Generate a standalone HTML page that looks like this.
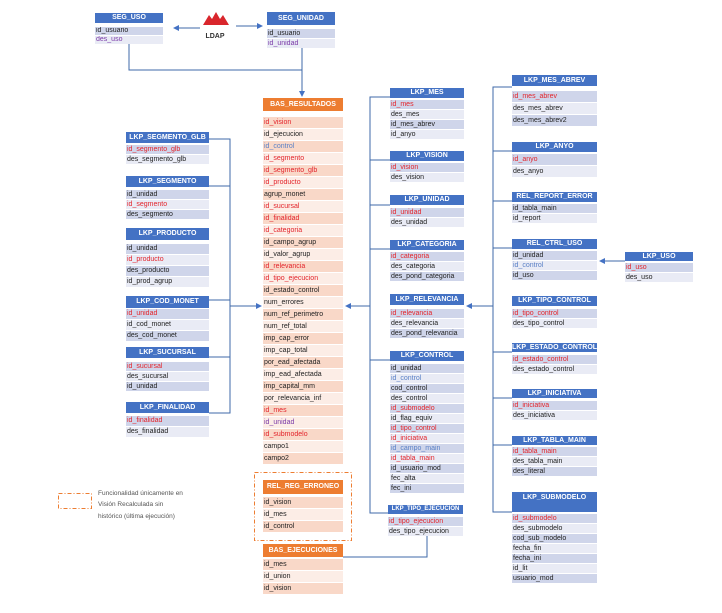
<!DOCTYPE html>
<html><head><meta charset="utf-8"><style>
body{margin:0;width:722px;height:613px;background:#fff;position:relative;overflow:hidden;font-family:"Liberation Sans",sans-serif;}
.t{position:absolute;font-size:7px;color:#222;}
.h{background:#4472C4;color:#fff;font-weight:bold;text-align:center;font-size:7px;}
.o .h{background:#ED7D31;}
.r{padding-left:1px;white-space:nowrap;overflow:hidden;}
.r:nth-child(odd){background:#CFD5EA}.r:nth-child(even){background:#E9EBF5}
.o .r:nth-child(odd){background:#F9D8C8}.o .r:nth-child(even){background:#FCEDE6}
.k{color:#E3242B}.b{color:#5A80C6}.p{color:#7B3BA8}
svg{position:absolute;left:0;top:0}
</style></head><body>
<svg width="722" height="613">
<defs><marker id="a" markerWidth="6" markerHeight="6" refX="5" refY="3" orient="auto"><path d="M0,0 L6,3 L0,6 z" fill="#4472C4"/></marker></defs>
<g stroke="#3F6AA8" stroke-width="1" fill="none">
<line x1="200" y1="28" x2="174" y2="28" marker-end="url(#a)"/>
<line x1="236" y1="26" x2="262" y2="26" marker-end="url(#a)"/>
<polyline points="129,44 129,70 302,70"/>
<line x1="302" y1="47" x2="302" y2="96" marker-end="url(#a)"/>
<polyline points="209,139 230,139 230,413 209,413"/>
<line x1="209" y1="186" x2="230" y2="186"/>
<line x1="209" y1="357" x2="230" y2="357"/>
<polyline points="209,300 230,300"/>
<line x1="230" y1="306" x2="261" y2="306" marker-end="url(#a)"/>
<polyline points="390,97 370,97 370,513 388,513"/>
<line x1="370" y1="160" x2="390" y2="160"/>
<line x1="370" y1="205" x2="390" y2="205"/>
<line x1="370" y1="249" x2="390" y2="249"/>
<line x1="370" y1="360" x2="390" y2="360"/>
<line x1="370" y1="306" x2="346" y2="306" marker-end="url(#a)"/>
<polyline points="343,557 427,557 427,535"/>
<polyline points="512,87 493,87 493,512 512,512"/>
<line x1="493" y1="151" x2="512" y2="151"/>
<line x1="493" y1="201" x2="512" y2="201"/>
<line x1="493" y1="248" x2="512" y2="248"/>
<line x1="493" y1="352" x2="512" y2="352"/>
<line x1="493" y1="398" x2="512" y2="398"/>
<line x1="493" y1="445" x2="512" y2="445"/>
<line x1="493" y1="306" x2="467" y2="306" marker-end="url(#a)"/>
<line x1="625" y1="261" x2="600" y2="261" marker-end="url(#a)"/>
</g>
<g stroke="#ED7D31" stroke-width="1" fill="none" stroke-dasharray="4,2,1,2">
<rect x="254.5" y="472.5" width="97" height="68"/>
<rect x="58.5" y="493.5" width="33" height="15"/>
</g>
<polygon points="203,25 209,15 212,19 216,12 220,19 223,15 229,25" fill="#D9262C"/>
<text x="215" y="38" font-family="Liberation Sans" font-size="7" font-weight="bold" text-anchor="middle" fill="#333">LDAP</text>
<text font-family="Liberation Sans" font-size="6.5" fill="#555"><tspan x="98" y="495">Funcionalidad únicamente en</tspan><tspan x="98" y="506">Visión Recalculada sin</tspan><tspan x="98" y="518">histórico (última ejecución)</tspan></text>
</svg>

<div class="t" style="left:95px;top:13px;width:68px"><div class="h" style="height:10px;line-height:10px">SEG_USO</div><div style="height:4px"></div><div><div class="r" style="height:8px;line-height:8px;margin-bottom:1px">id_usuario</div><div class="r p" style="height:8px;line-height:8px">des_uso</div></div></div>
<div class="t" style="left:267px;top:12px;width:68px"><div class="h" style="height:13px;line-height:13px">SEG_UNIDAD</div><div style="height:4px"></div><div><div class="r" style="height:9px;line-height:9px;margin-bottom:1px">id_usuario</div><div class="r p" style="height:9px;line-height:9px">id_unidad</div></div></div>

<div class="t o" style="left:263px;top:98px;width:80px"><div class="h" style="height:13px;line-height:13px">BAS_RESULTADOS</div><div style="height:6px"></div><div style="line-height:11px">
<div class="r k" style="height:11px;margin-bottom:1px">id_vision</div>
<div class="r" style="height:11px;margin-bottom:1px">id_ejecucion</div>
<div class="r b" style="height:11px;margin-bottom:1px">id_control</div>
<div class="r k" style="height:11px;margin-bottom:1px">id_segmento</div>
<div class="r k" style="height:11px;margin-bottom:1px">id_segmento_glb</div>
<div class="r k" style="height:11px;margin-bottom:1px">id_producto</div>
<div class="r" style="height:11px;margin-bottom:1px">agrup_monet</div>
<div class="r k" style="height:11px;margin-bottom:1px">id_sucursal</div>
<div class="r k" style="height:11px;margin-bottom:1px">id_finalidad</div>
<div class="r k" style="height:11px;margin-bottom:1px">id_categoria</div>
<div class="r" style="height:11px;margin-bottom:1px">id_campo_agrup</div>
<div class="r" style="height:11px;margin-bottom:1px">id_valor_agrup</div>
<div class="r k" style="height:11px;margin-bottom:1px">id_relevancia</div>
<div class="r k" style="height:11px;margin-bottom:1px">id_tipo_ejecucion</div>
<div class="r" style="height:11px;margin-bottom:1px">id_estado_control</div>
<div class="r" style="height:11px;margin-bottom:1px">num_errores</div>
<div class="r" style="height:11px;margin-bottom:1px">num_ref_perimetro</div>
<div class="r" style="height:11px;margin-bottom:1px">num_ref_total</div>
<div class="r" style="height:11px;margin-bottom:1px">imp_cap_error</div>
<div class="r" style="height:11px;margin-bottom:1px">imp_cap_total</div>
<div class="r" style="height:11px;margin-bottom:1px">por_ead_afectada</div>
<div class="r" style="height:11px;margin-bottom:1px">imp_ead_afectada</div>
<div class="r" style="height:11px;margin-bottom:1px">imp_capital_mm</div>
<div class="r" style="height:11px;margin-bottom:1px">por_relevancia_inf</div>
<div class="r k" style="height:11px;margin-bottom:1px">id_mes</div>
<div class="r p" style="height:11px;margin-bottom:1px">id_unidad</div>
<div class="r k" style="height:11px;margin-bottom:1px">id_submodelo</div>
<div class="r" style="height:11px;margin-bottom:1px">campo1</div>
<div class="r" style="height:11px;margin-bottom:1px">campo2</div>
</div></div>

<div class="t o" style="left:263px;top:480px;width:80px"><div class="h" style="height:14px;line-height:14px">REL_REG_ERRONEO</div><div style="height:3px"></div><div style="line-height:11px">
<div class="r" style="height:11px;margin-bottom:1px">id_vision</div><div class="r" style="height:11px;margin-bottom:1px">id_mes</div><div class="r" style="height:11px;margin-bottom:1px">id_control</div></div></div>
<div class="t o" style="left:263px;top:544px;width:80px"><div class="h" style="height:13px;line-height:13px">BAS_EJECUCIONES</div><div style="height:2px"></div><div style="line-height:11px">
<div class="r" style="height:11px;margin-bottom:1px">id_mes</div><div class="r" style="height:11px;margin-bottom:1px">id_union</div><div class="r" style="height:11px;margin-bottom:1px">id_vision</div></div></div>

<!-- left column -->
<div class="t" style="left:126px;top:132px;width:83px"><div class="h" style="height:11px;line-height:11px">LKP_SEGMENTO_GLB</div><div style="height:2px"></div><div style="line-height:9px">
<div class="r k" style="height:9px;margin-bottom:1px">id_segmento_glb</div><div class="r" style="height:9px;margin-bottom:1px">des_segmento_glb</div></div></div>
<div class="t" style="left:126px;top:176px;width:83px"><div class="h" style="height:11px;line-height:11px">LKP_SEGMENTO</div><div style="height:3px"></div><div style="line-height:9px">
<div class="r" style="height:9px;margin-bottom:1px">id_unidad</div><div class="r k" style="height:9px;margin-bottom:1px">id_segmento</div><div class="r" style="height:9px;margin-bottom:1px">des_segmento</div></div></div>
<div class="t" style="left:126px;top:228px;width:83px"><div class="h" style="height:12px;line-height:12px">LKP_PRODUCTO</div><div style="height:4px"></div><div style="line-height:10px">
<div class="r" style="height:10px;margin-bottom:1px">id_unidad</div><div class="r k" style="height:10px;margin-bottom:1px">id_producto</div><div class="r" style="height:10px;margin-bottom:1px">des_producto</div><div class="r" style="height:10px;margin-bottom:1px">id_prod_agrup</div></div></div>
<div class="t" style="left:126px;top:296px;width:83px"><div class="h" style="height:12px;line-height:12px">LKP_COD_MONET</div><div style="height:1px"></div><div style="line-height:10px">
<div class="r k" style="height:10px;margin-bottom:1px">id_unidad</div><div class="r" style="height:10px;margin-bottom:1px">id_cod_monet</div><div class="r" style="height:10px;margin-bottom:1px">des_cod_monet</div></div></div>
<div class="t" style="left:126px;top:347px;width:83px"><div class="h" style="height:11px;line-height:11px">LKP_SUCURSAL</div><div style="height:4px"></div><div style="line-height:9px">
<div class="r k" style="height:9px;margin-bottom:1px">id_sucursal</div><div class="r" style="height:9px;margin-bottom:1px">des_sucursal</div><div class="r" style="height:9px;margin-bottom:1px">id_unidad</div></div></div>
<div class="t" style="left:126px;top:402px;width:83px"><div class="h" style="height:11px;line-height:11px">LKP_FINALIDAD</div><div style="height:3px"></div><div style="line-height:10px">
<div class="r k" style="height:10px;margin-bottom:1px">id_finalidad</div><div class="r" style="height:10px;margin-bottom:1px">des_finalidad</div></div></div>

<!-- middle column -->
<div class="t" style="left:390px;top:88px;width:74px"><div class="h" style="height:10px;line-height:10px">LKP_MES</div><div style="height:2px"></div><div style="line-height:9px">
<div class="r k" style="height:9px;margin-bottom:1px">id_mes</div><div class="r" style="height:9px;margin-bottom:1px">des_mes</div><div class="r" style="height:9px;margin-bottom:1px">id_mes_abrev</div><div class="r" style="height:9px;margin-bottom:1px">id_anyo</div></div></div>
<div class="t" style="left:390px;top:151px;width:74px"><div class="h" style="height:10px;line-height:10px">LKP_VISION</div><div style="height:2px"></div><div style="line-height:9px">
<div class="r k" style="height:9px;margin-bottom:1px">id_vision</div><div class="r" style="height:9px;margin-bottom:1px">des_vision</div></div></div>
<div class="t" style="left:390px;top:195px;width:74px"><div class="h" style="height:10px;line-height:10px">LKP_UNIDAD</div><div style="height:3px"></div><div style="line-height:9px">
<div class="r k" style="height:9px;margin-bottom:1px">id_unidad</div><div class="r" style="height:9px;margin-bottom:1px">des_unidad</div></div></div>
<div class="t" style="left:390px;top:240px;width:74px"><div class="h" style="height:10px;line-height:10px">LKP_CATEGORIA</div><div style="height:2px"></div><div style="line-height:9px">
<div class="r k" style="height:9px;margin-bottom:1px">id_categoria</div><div class="r" style="height:9px;margin-bottom:1px">des_categoria</div><div class="r" style="height:9px;margin-bottom:1px">des_pond_categoria</div></div></div>
<div class="t" style="left:390px;top:294px;width:74px"><div class="h" style="height:11px;line-height:11px">LKP_RELEVANCIA</div><div style="height:4px"></div><div style="line-height:9px">
<div class="r k" style="height:9px;margin-bottom:1px">id_relevancia</div><div class="r" style="height:9px;margin-bottom:1px">des_relevancia</div><div class="r" style="height:9px;margin-bottom:1px">des_pond_relevancia</div></div></div>
<div class="t" style="left:390px;top:351px;width:74px"><div class="h" style="height:10px;line-height:10px">LKP_CONTROL</div><div style="height:3px"></div><div style="line-height:9px">
<div class="r" style="height:9px;margin-bottom:1px">id_unidad</div>
<div class="r b" style="height:9px;margin-bottom:1px">id_control</div>
<div class="r" style="height:9px;margin-bottom:1px">cod_control</div>
<div class="r" style="height:9px;margin-bottom:1px">des_control</div>
<div class="r k" style="height:9px;margin-bottom:1px">id_submodelo</div>
<div class="r" style="height:9px;margin-bottom:1px">id_flag_equiv</div>
<div class="r k" style="height:9px;margin-bottom:1px">id_tipo_control</div>
<div class="r k" style="height:9px;margin-bottom:1px">id_iniciativa</div>
<div class="r b" style="height:9px;margin-bottom:1px">id_campo_main</div>
<div class="r k" style="height:9px;margin-bottom:1px">id_tabla_main</div>
<div class="r" style="height:9px;margin-bottom:1px">id_usuario_mod</div>
<div class="r" style="height:9px;margin-bottom:1px">fec_alta</div>
<div class="r" style="height:9px;margin-bottom:1px">fec_ini</div></div></div>
<div class="t" style="left:388px;top:505px;width:75px"><div class="h" style="height:9px;line-height:9px;font-size:6px">LKP_TIPO_EJECUCION</div><div style="height:3px"></div><div style="line-height:9px">
<div class="r k" style="height:9px;margin-bottom:1px">id_tipo_ejecucion</div><div class="r" style="height:9px;margin-bottom:1px">des_tipo_ejecucion</div></div></div>

<!-- right column -->
<div class="t" style="left:512px;top:75px;width:85px"><div class="h" style="height:11px;line-height:11px">LKP_MES_ABREV</div><div style="height:5px"></div><div style="line-height:11px">
<div class="r k" style="height:11px;margin-bottom:1px">id_mes_abrev</div><div class="r" style="height:11px;margin-bottom:1px">des_mes_abrev</div><div class="r" style="height:11px;margin-bottom:1px">des_mes_abrev2</div></div></div>
<div class="t" style="left:512px;top:142px;width:85px"><div class="h" style="height:10px;line-height:10px">LKP_ANYO</div><div style="height:2px"></div><div style="line-height:11px">
<div class="r k" style="height:11px;margin-bottom:1px">id_anyo</div><div class="r" style="height:11px;margin-bottom:1px">des_anyo</div></div></div>
<div class="t" style="left:512px;top:192px;width:85px"><div class="h" style="height:10px;line-height:10px">REL_REPORT_ERROR</div><div style="height:2px"></div><div style="line-height:9px">
<div class="r" style="height:9px;margin-bottom:1px">id_tabla_main</div><div class="r" style="height:9px;margin-bottom:1px">id_report</div></div></div>
<div class="t" style="left:512px;top:239px;width:85px"><div class="h" style="height:10px;line-height:10px">REL_CTRL_USO</div><div style="height:2px"></div><div style="line-height:9px">
<div class="r" style="height:9px;margin-bottom:1px">id_unidad</div><div class="r b" style="height:9px;margin-bottom:1px">id_control</div><div class="r" style="height:9px;margin-bottom:1px">id_uso</div></div></div>
<div class="t" style="left:512px;top:296px;width:85px"><div class="h" style="height:10px;line-height:10px">LKP_TIPO_CONTROL</div><div style="height:3px"></div><div style="line-height:9px">
<div class="r k" style="height:9px;margin-bottom:1px">id_tipo_control</div><div class="r" style="height:9px;margin-bottom:1px">des_tipo_control</div></div></div>
<div class="t" style="left:512px;top:343px;width:85px"><div class="h" style="height:9px;line-height:9px">LKP_ESTADO_CONTROL</div><div style="height:3px"></div><div style="line-height:9px">
<div class="r k" style="height:9px;margin-bottom:1px">id_estado_control</div><div class="r" style="height:9px;margin-bottom:1px">des_estado_control</div></div></div>
<div class="t" style="left:512px;top:389px;width:85px"><div class="h" style="height:9px;line-height:9px">LKP_INICIATIVA</div><div style="height:3px"></div><div style="line-height:9px">
<div class="r k" style="height:9px;margin-bottom:1px">id_iniciativa</div><div class="r" style="height:9px;margin-bottom:1px">des_iniciativa</div></div></div>
<div class="t" style="left:512px;top:436px;width:85px"><div class="h" style="height:9px;line-height:9px">LKP_TABLA_MAIN</div><div style="height:2px"></div><div style="line-height:9px">
<div class="r k" style="height:9px;margin-bottom:1px">id_tabla_main</div><div class="r" style="height:9px;margin-bottom:1px">des_tabla_main</div><div class="r" style="height:9px;margin-bottom:1px">des_literal</div></div></div>
<div class="t" style="left:512px;top:492px;width:85px"><div class="h" style="height:20px;line-height:12px">LKP_SUBMODELO</div><div style="height:2px"></div><div style="line-height:9px">
<div class="r k" style="height:9px;margin-bottom:1px">id_submodelo</div>
<div class="r" style="height:9px;margin-bottom:1px">des_submodelo</div>
<div class="r" style="height:9px;margin-bottom:1px">cod_sub_modelo</div>
<div class="r" style="height:9px;margin-bottom:1px">fecha_fin</div>
<div class="r" style="height:9px;margin-bottom:1px">fecha_ini</div>
<div class="r" style="height:9px;margin-bottom:1px">id_lit</div>
<div class="r" style="height:9px;margin-bottom:1px">usuario_mod</div></div></div>
<div class="t" style="left:625px;top:252px;width:68px"><div class="h" style="height:9px;line-height:9px">LKP_USO</div><div style="height:2px"></div><div style="line-height:9px">
<div class="r k" style="height:9px;margin-bottom:1px">id_uso</div><div class="r" style="height:9px;margin-bottom:1px">des_uso</div></div></div>
</body></html>
